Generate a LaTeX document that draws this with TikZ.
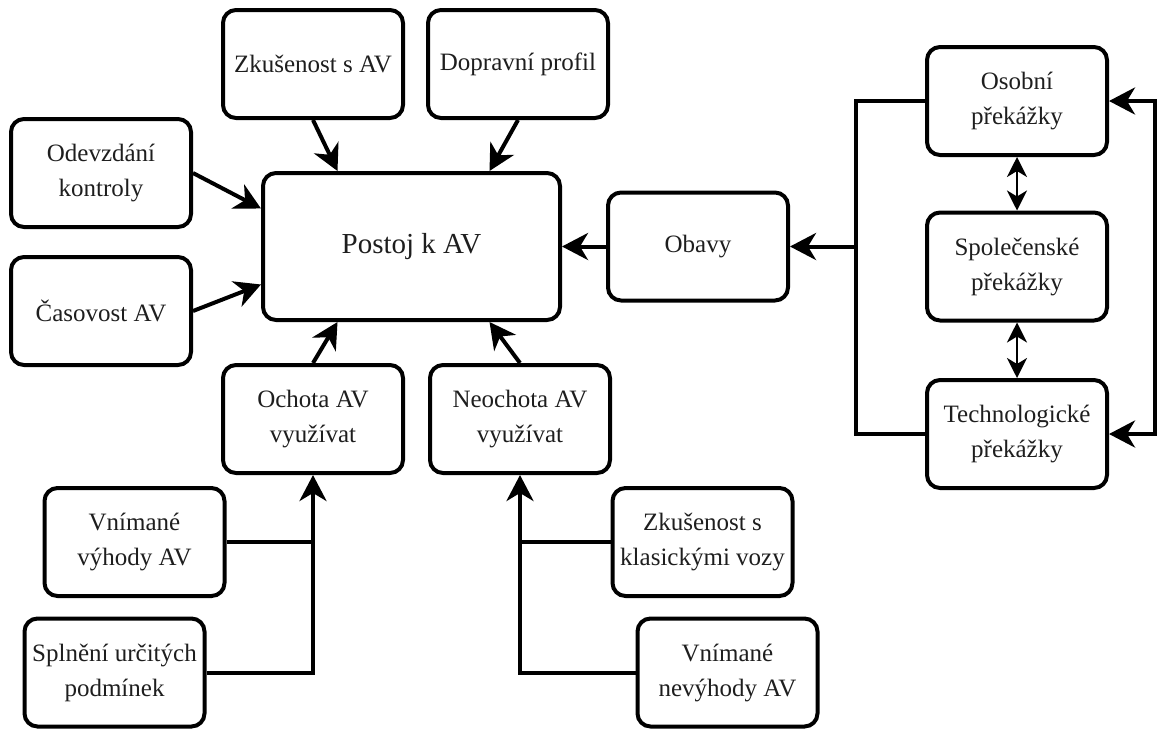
\documentclass[tikz,border=0pt]{standalone}
\usepackage{fontspec}
\setmainfont{Liberation Serif}
\usetikzlibrary{arrows.meta,calc}
\definecolor{txt}{RGB}{30,30,30}

\begin{document}
\begin{tikzpicture}[x=1pt,y=-1pt,
  box/.style={draw, line width=4pt, rounded corners=13pt, minimum width=180pt,
    minimum height=108pt, align=center, inner sep=0pt,
    font=\fontsize{25}{35}\selectfont, text=txt},
  mainbox/.style={box, minimum width=297pt, minimum height=147pt,
    font=\fontsize{29}{36}\selectfont},
  arr/.style={line width=4pt, -{Stealth[length=26pt,width=27pt,inset=8pt]}},
  link/.style={line width=4pt},
  darr/.style={line width=2.5pt,
    {Stealth[length=20pt,width=20pt,inset=6pt]}-{Stealth[length=20pt,width=20pt,inset=6pt]}}]
\useasboundingbox (0,0) rectangle (1160,729);

% central attitude box
\node[mainbox] (post) at (411.5,246.5) {Postoj k AV};

% factors above and to the left
\node[box] (zk)  at (313,64)    {Zkušenost s AV};
\node[box] (dp)  at (518,64)    {Dopravní profil};
\node[box] (od)  at (101,173)   {Odevzdání\\kontroly};
\node[box] (cas) at (101,311)   {Časovost AV};

% concerns and barriers
\node[box] (ob)   at (698,246.5)  {Obavy};
\node[box] (os)   at (1017,101)   {Osobní\\překážky};
\node[box] (spol) at (1017,266.5) {Společenské\\překážky};
\node[box] (tech) at (1017,434)   {Technologické\\překážky};

% willingness / unwillingness
\node[box] (och) at (313,419) {Ochota AV\\využívat};
\node[box] (neo) at (520,419) {Neochota AV\\využívat};
\node[box] (vyh) at (134.5,542)   {Vnímané\\výhody AV};
\node[box] (spl) at (114.5,672.5) {Splnění určitých\\podmínek};
\node[box] (kla) at (702.5,542)   {Zkušenost s\\klasickými vozy};
\node[box] (nev) at (727.5,672.5) {Vnímané\\nevýhody AV};

% arrows into the central box
\draw[arr] (zk.south) -- ([xshift=-74pt]post.north);
\draw[arr] (dp.south) -- ([xshift=78pt]post.north);
\draw[arr] (od.east)  -- ([yshift=38pt]post.west);
\draw[arr] (cas.east) -- ([yshift=-38pt]post.west);
\draw[arr] (och.north) -- ([xshift=-74pt]post.south);
\draw[arr] (neo.north) -- ([xshift=78pt]post.south);
\draw[arr] (ob.west) -- (post.east);

% barriers feeding the concerns
\coordinate (jl) at (856,246.5);
\coordinate (jr) at (1155,266.5);
\draw[link] (os.west) -- (os.west -| jl) -- (tech.west -| jl) -- (tech.west);
\draw[arr] (jl) -- (ob.east);
\draw[arr] (jr) |- (os.east);
\draw[arr] (jr) |- (tech.east);
\draw[darr] (os.south) -- (spol.north);
\draw[darr] (spol.south) -- (tech.north);

% inputs of willingness
\draw[arr] (spl.east) -| (och.south);
\draw[link] (vyh.east) -- (vyh.east -| och.south);
\draw[arr] (nev.west) -| (neo.south);
\draw[link] (kla.west) -- (kla.west -| neo.south);
\end{tikzpicture}
\end{document}
